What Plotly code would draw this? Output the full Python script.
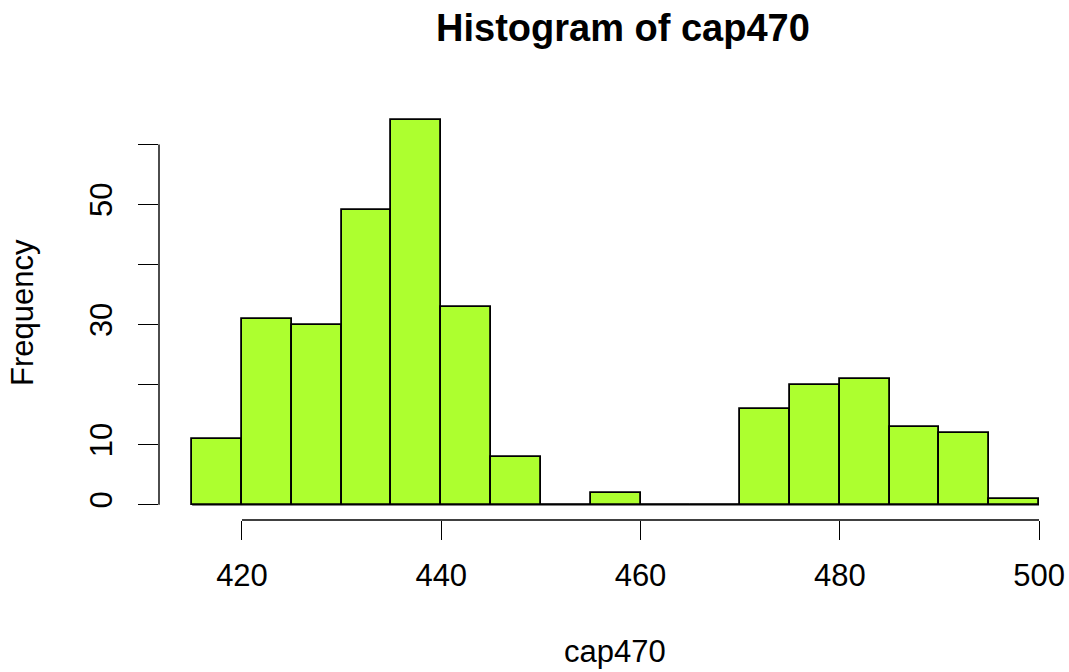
import plotly.graph_objects as go

# Data (bins of width 5 from 415 to 500)
bin_edges = [415, 420, 425, 430, 435, 440, 445, 450, 455, 460, 465, 470, 475, 480, 485, 490, 495, 500]
counts = [11, 31, 30, 49, 64, 33, 8, 0, 2, 0, 0, 16, 20, 21, 13, 12, 1]
x_ticks = [420, 440, 460, 480, 500]
y_ticks = [0, 10, 20, 30, 40, 50, 60]
y_ticktext = ["0", "10", "", "30", "", "50", ""]

centers = [(a + b) / 2 for a, b in zip(bin_edges[:-1], bin_edges[1:])]
widths = [b - a for a, b in zip(bin_edges[:-1], bin_edges[1:])]

FONT = "Liberation Sans, Arial, Helvetica, sans-serif"
W, H = 1069, 672
ML, MR, MT, MB = 159, 0, 105, 152

fig = go.Figure()
fig.add_trace(go.Bar(
    x=centers, y=counts, width=widths,
    marker=dict(color="#ADFF2F", line=dict(color="black", width=1.8)),
    hoverinfo="x+y", showlegend=False,
))

# baseline across all bins (zero-height bins are drawn as a line in R)
fig.add_shape(type="line", xref="x", yref="y", x0=bin_edges[0], x1=bin_edges[-1], y0=0, y1=0,
              line=dict(color="black", width=1.8), layer="below")
# R-style axis lines spanning only the ticks
fig.add_shape(type="line", xref="x", yref="paper", x0=x_ticks[0], x1=x_ticks[-1], y0=0, y1=0,
              line=dict(color="black", width=1.4))
fig.add_shape(type="line", xref="paper", yref="y", x0=0, x1=0, y0=y_ticks[0], y1=y_ticks[-1],
              line=dict(color="black", width=1.4))

fig.update_layout(
    width=W, height=H,
    margin=dict(l=ML, r=MR, t=MT, b=MB, pad=0),
    paper_bgcolor="white", plot_bgcolor="white",
    font=dict(family=FONT, size=31, color="black"),
    bargap=0,
    xaxis=dict(range=[411.67, 503.01], showgrid=False, zeroline=False, showline=False,
               ticks="outside", ticklen=19, tickwidth=1.4, tickcolor="black",
               tickvals=x_ticks, ticktext=[str(v) for v in x_ticks],
               tickfont=dict(family=FONT, size=31), ticklabelstandoff=9),
    yaxis=dict(range=[-2.56, 66.56], showgrid=False, zeroline=False, showline=False,
               ticks="outside", ticklen=20, tickwidth=1.4, tickcolor="black",
               tickvals=y_ticks, ticktext=y_ticktext, tickangle=-90,
               tickfont=dict(family=FONT, size=31), ticklabelstandoff=14),
    annotations=[
        dict(text="<b>Histogram of cap470</b>", xref="paper", yref="paper", x=0.51, y=1.186,
             xanchor="center", yanchor="middle", showarrow=False,
             font=dict(family=FONT, size=38, color="black")),
        dict(text="cap470", xref="paper", yref="paper", x=0.501, y=-0.318,
             xanchor="center", yanchor="middle", showarrow=False, borderpad=0,
             font=dict(family=FONT, size=31, color="black")),
        dict(text="Frequency", xref="paper", yref="paper", x=-0.15, y=0.5, textangle=-90,
             xanchor="center", yanchor="middle", showarrow=False,
             font=dict(family=FONT, size=31, color="black")),
    ],
)

fig.write_html("out.html")
